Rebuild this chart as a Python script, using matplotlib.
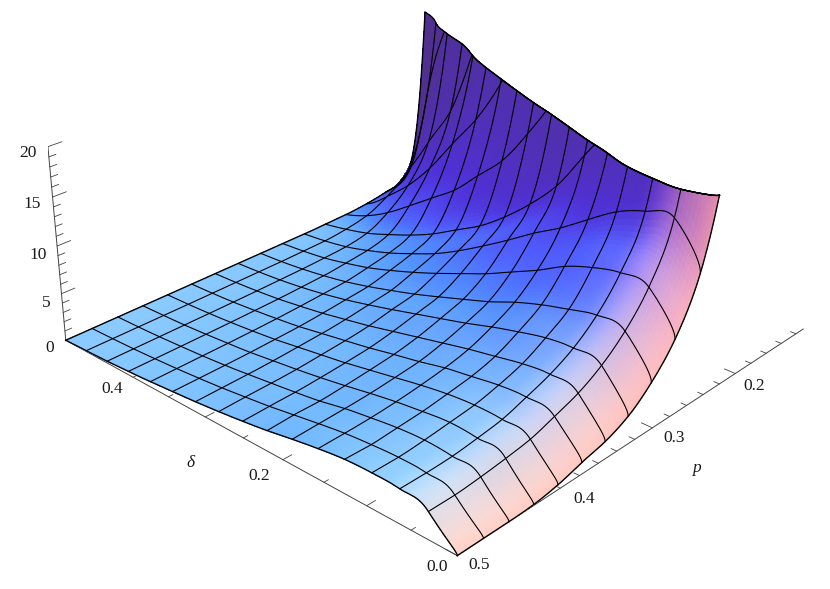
import numpy as np
import matplotlib
matplotlib.use('Agg')
import matplotlib.pyplot as plt
from mpl_toolkits.mplot3d import proj3d

plt.rcParams['font.family'] = ['Liberation Serif', 'DejaVu Sans']

# ---------------------------------------------------------------------------
# Data: z at the mesh crossings
# each list runs over delta_values (delta = 0 ... 0.5)
# ---------------------------------------------------------------------------
delta_values = [i / 32 for i in range(17)]
p_values = [0.5, 0.4756, 0.4512, 0.4269, 0.4025, 0.3781, 0.3537, 0.3294, 0.305,
            0.2806, 0.2562, 0.2319, 0.2075, 0.1831, 0.1587, 0.1344, 0.11]

z_p500 = [0.0, 2.7, 3.4, 3.5, 3.4, 3.05, 2.6, 2.1, 1.7, 1.35, 1.05, 0.8, 0.55, 0.37, 0.2, 0.09, 0.0]
z_p476 = [0.0, 2.7, 3.4, 3.5, 3.35, 3.1, 2.7, 2.25, 1.8, 1.45, 1.1, 0.82, 0.58, 0.38, 0.21, 0.09, 0.0]
z_p451 = [0.0, 2.9, 3.5, 3.7, 3.55, 3.2, 2.8, 2.25, 1.85, 1.5, 1.15, 0.85, 0.6, 0.4, 0.22, 0.09, 0.0]
z_p427 = [0.1, 3.2, 3.8, 4.0, 3.75, 3.4, 2.95, 2.45, 2.0, 1.6, 1.25, 0.9, 0.65, 0.42, 0.23, 0.1, 0.0]
z_p403 = [0.5, 3.6, 4.2, 4.3, 4.1, 3.7, 3.2, 2.7, 2.2, 1.8, 1.4, 1.0, 0.7, 0.45, 0.25, 0.1, 0.0]
z_p378 = [1.2, 4.4, 5.0, 4.9, 4.5, 4.1, 3.5, 3.0, 2.45, 2.0, 1.55, 1.1, 0.78, 0.5, 0.27, 0.11, 0.0]
z_p354 = [1.8, 5.3, 5.9, 5.7, 5.2, 4.7, 4.1, 3.5, 2.9, 2.3, 1.8, 1.3, 0.9, 0.55, 0.3, 0.12, 0.0]
z_p329 = [2.9, 6.7, 7.2, 7.0, 6.4, 5.7, 4.9, 4.2, 3.5, 2.8, 2.15, 1.55, 1.05, 0.65, 0.35, 0.14, 0.0]
z_p305 = [4.9, 8.8, 9.2, 8.6, 7.9, 7.0, 5.9, 5.0, 4.1, 3.25, 2.5, 1.8, 1.2, 0.75, 0.4, 0.15, 0.0]
z_p281 = [7.9, 11.9, 12.2, 11.6, 10.6, 9.1, 7.8, 6.5, 5.4, 4.3, 3.3, 2.4, 1.6, 1.0, 0.5, 0.2, 0.0]
z_p256 = [13.2, 17.5, 17.1, 16.0, 14.2, 12.3, 10.7, 8.9, 7.2, 5.6, 4.2, 3.1, 2.1, 1.3, 0.65, 0.25, 0.0]
z_p232 = [26.0, 36.0, 34.6, 29.5, 22.8, 18.6, 14.5, 11.6, 9.2, 7.2, 5.7, 4.2, 3.0, 2.0, 1.1, 0.5, 0.05]
z_p208 = [57.0, 78.0, 75.0, 64.0, 50.0, 40.0, 29.0, 21.6, 17.0, 13.2, 10.6, 8.0, 6.1, 4.2, 2.4, 1.0, 0.1]
z_p183 = [124.0, 170.0, 165.0, 140.0, 108.0, 86.0, 63.0, 47.0, 35.0, 26.0, 19.5, 14.8, 11.2, 7.5, 4.5, 2.2, 0.3]
z_p159 = [270.0, 345.0, 340.0, 300.0, 238.0, 190.0, 138.0, 103.0, 78.0, 56.0, 42.0, 29.6, 20.8, 13.0, 8.5, 4.0, 0.7]
z_p134 = [600.0, 800.0, 780.0, 640.0, 500.0, 400.0, 300.0, 225.0, 168.0, 122.0, 91.0, 64.0, 45.0, 31.0, 22.0, 12.0, 1.5]
z_p110 = [1500.0, 2000.0, 1900.0, 1600.0, 1300.0, 1100.0, 900.0, 700.0, 500.0, 400.0, 300.0, 200.0, 140.0, 90.0, 60.0, 40.0, 22.0]

z_rows = [z_p500, z_p476, z_p451, z_p427, z_p403, z_p378, z_p354, z_p329, z_p305,
          z_p281, z_p256, z_p232, z_p208, z_p183, z_p159, z_p134, z_p110]

z_ticks = [0, 5, 10, 15, 20]
delta_ticks = [0.0, 0.2, 0.4]
p_ticks = [0.5, 0.4, 0.3, 0.2]

Z_TOP = 20.0
FIG_W, FIG_H = 830, 589

# camera fitted to the axes of the reference
ELEV, AZIM, ROLL, FOCAL = 26.485, 131.972, -0.681, 0.4441
BOX = (0.9709, 1, 0.3895)
SCALE, TX, TY = 4168.79, 443.72, -238.91


def upsample_axis(a, n):
    """Catmull-Rom refinement along the first axis, n steps per cell."""
    m = a.shape[0]
    idx = np.arange((m - 1) * n + 1) / n
    i0 = np.minimum(idx.astype(int), m - 2)
    t = (idx - i0).reshape((-1,) + (1,) * (a.ndim - 1))
    pad = np.concatenate([2 * a[:1] - a[1:2], a, 2 * a[-1:] - a[-2:-1]])
    p0, p1, p2, p3 = pad[i0], pad[i0 + 1], pad[i0 + 2], pad[i0 + 3]
    return 0.5 * (2 * p1 + (p2 - p0) * t + (2 * p0 - 5 * p1 + 4 * p2 - p3) * t ** 2
                  + (3 * p1 - p0 - 3 * p2 + p3) * t ** 3)


def lighting(dd, pp, zz):
    """Mathematica's default four lights, worked out on the box-scaled surface."""
    sx, sy, sz = BOX[0] / 0.5, BOX[1] / 0.4, BOX[2] / 20.0
    dzdj, dzdi = np.gradient(zz * sz, pp * sy, dd * sx)
    # the real surface is steeper next to delta = 0 than the mesh shows
    dzdi = dzdi * (1 + 1.8 * np.exp(-(dd / delta_values[1]) ** 2))
    n = np.stack([-dzdi, -dzdj, np.ones_like(zz)], axis=-1)
    n /= np.linalg.norm(n, axis=-1, keepdims=True)
    el, az = np.radians(ELEV), np.radians(AZIM)
    w = np.array([np.cos(el) * np.cos(az), np.cos(el) * np.sin(az), np.sin(el)])
    u = np.cross([0, 0, 1], w)
    u /= np.linalg.norm(u)
    v = np.cross(w, u)
    nv = np.stack([n @ u, n @ v, n @ w], axis=-1)
    rgb = np.zeros(zz.shape + (3,))
    rgb += [0.312, 0.188, 0.4]
    for d, c in (((2, 0, 2), (0.8, 0, 0)), ((2, 2, 2), (0, 0.8, 0)), ((0, 2, 2), (0, 0, 0.8))):
        d = np.array(d, float) / np.linalg.norm(d)
        rgb += np.clip(nv @ d, 0, None)[..., None] * np.array(c)
    return np.clip(rgb, 0, 1)


def soften_along_delta(rgb, width):
    """Running mean across delta, the way vertex shading washes the colours out."""
    half = width // 2
    pad = np.concatenate([np.repeat(rgb[:, :1], half, axis=1), rgb, np.repeat(rgb[:, -1:], half, axis=1)], axis=1)
    csum = np.cumsum(np.concatenate([np.zeros_like(pad[:, :1]), pad], axis=1), axis=1)
    out = (csum[:, 2 * half + 1:] - csum[:, :-(2 * half + 1)]) / (2 * half + 1)
    return np.clip(out, 0, 1)


N = 12
zz_coarse = np.array(z_rows)           # rows p, columns delta
log_z = upsample_axis(upsample_axis(np.log1p(zz_coarse), N).T, N).T
zz = np.clip(np.expm1(log_z), 0, None)
dd = upsample_axis(np.array(delta_values), N)
t = np.arange(N + 1) / N
dd[:N + 1] = delta_values[1] * (2 * t ** 2 - t ** 3)   # steep start at delta = 0, no kink at the first mesh line
pp = upsample_axis(np.array(p_values), N)
colors = soften_along_delta(lighting(dd, pp, zz), 2 * N)

# cut the surface at the top of the plot range
X, Y = np.meshgrid(dd, pp)
Y = Y.copy()
Zc = zz.copy()
for c in range(zz.shape[1]):
    over = np.nonzero(zz[:, c] > Z_TOP)[0]
    if len(over):
        k = over[0]
        f = (Z_TOP - zz[k - 1, c]) / (zz[k, c] - zz[k - 1, c])
        Y[k:, c] = pp[k - 1] + f * (pp[k] - pp[k - 1])
        Zc[k:, c] = Z_TOP

fig = plt.figure(figsize=(FIG_W / 100, FIG_H / 100), dpi=100)
size = SCALE * 0.185
left = TX - 0.095 * SCALE
bottom = FIG_H + TY - 0.095 * SCALE
ax = fig.add_axes([left / FIG_W, bottom / FIG_H, size / FIG_W, size / FIG_H], projection='3d')
ax.computed_zorder = False
ax.set_xlim(0, 0.5)
ax.set_ylim(0.1, 0.5)
ax.set_zlim(0, 20)
ax.view_init(elev=ELEV, azim=AZIM, roll=ROLL)
ax.set_proj_type('persp', focal_length=FOCAL)
ax.set_box_aspect(BOX)
ax.set_axis_off()

ax.plot_surface(X, Y, Zc, rstride=1, cstride=1, facecolors=colors, shade=False,
                linewidth=0, antialiased=False, zorder=2)

# mesh, boundary a little heavier; the last row collapses onto the cut edge
for i in range(0, zz.shape[1], N):
    lw = 1.0 if i in (0, zz.shape[1] - 1) else 0.8
    ax.plot(X[:, i], Y[:, i], Zc[:, i], color='black', lw=lw, zorder=3)
for j in range(0, zz.shape[0], N):
    lw = 1.0 if j in (0, zz.shape[0] - 1) else 0.8
    ax.plot(X[j, :], Y[j, :], Zc[j, :], color='black', lw=lw, zorder=3)

# axes
AXIS_COL = '#444444'
ax.plot([0.5, 0.0], [0.5, 0.5], [0, 0], color=AXIS_COL, lw=0.7, zorder=1)
ax.plot([0.0, 0.0], [0.5, 0.11], [0, 0], color=AXIS_COL, lw=0.7, zorder=1)
ax.plot([0.5, 0.5], [0.5, 0.5], [0, 20], color=AXIS_COL, lw=0.7, zorder=1)
for v in np.arange(0, 0.501, 0.05):
    L = 0.008 if round(v * 100) % 10 == 0 else 0.004
    ax.plot([v, v], [0.5, 0.5 - L], [0, 0], color=AXIS_COL, lw=0.6, zorder=1)
for v in np.arange(0.12, 0.501, 0.02):
    L = 0.012 if round(v * 100) % 10 == 0 else 0.006
    ax.plot([0, L], [v, v], [0, 0], color=AXIS_COL, lw=0.6, zorder=1)
for v in range(0, 21):
    L = 0.012 if v % 5 == 0 else 0.006
    ax.plot([0.5, 0.5], [0.5, 0.5 - L], [v, v], color=AXIS_COL, lw=0.6, zorder=1)

M = ax.get_proj()


def label(txt, x, y, z, dx, dy, **kw):
    # dx, dy are pixels on the picture away from the projected point
    px, py, _ = proj3d.proj_transform(x, y, z, M)
    ax.annotate(txt, (px, py), xytext=(dx * 0.72, -dy * 0.72), textcoords='offset points',
                ha='center', va='center', fontsize=12.5, color='#1a1a1a', **kw)


for v, (dx, dy) in zip(z_ticks, [(-16, 8), (-15, 9), (-19, 9), (-20, 7), (-20, 6)]):
    label(str(v), 0.5, 0.5, v, dx, dy)
for v, (dx, dy) in zip(delta_ticks, [(-20, 11), (-24, 16), (-21, 12)]):
    label('%.1f' % v, v, 0.5, 0, dx, dy)
for v, (dx, dy) in zip(p_ticks, [(22, 9), (24, 11), (22, 10), (19, 12)]):
    label('%.1f' % v, 0, v, 0, dx, dy)
label('δ', 0.3, 0.5, 0, -15, 46, fontstyle='italic')
label('p', 0, 0.3, 0, 44, 40, fontstyle='italic')

fig.savefig('out.png', dpi=100)
